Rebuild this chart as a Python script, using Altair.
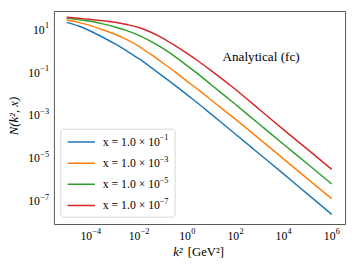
import altair as alt
import pandas as pd
import numpy as np

# ---- data (log10 of k^2 and log10 of N) ----
log_k2 = [-5, -4.5, -4, -3.5, -3, -2.5, -2, -1.5, -1, -0.5, 0, 0.5, 1, 2, 3, 4, 5, 6]
series_labels = ["x = 1.0 × 10^−1", "x = 1.0 × 10^−3", "x = 1.0 × 10^−5", "x = 1.0 × 10^−7"]
series_exps = ["−1", "−3", "−5", "−7"]
logN_x1 = [1.29, 1.12, 0.88, 0.60, 0.30, -0.04, -0.40, -0.80, -1.22, -1.64, -2.08, -2.52, -2.98, -3.90, -4.83, -5.76, -6.70, -7.64]
logN_x3 = [1.40, 1.29, 1.14, 0.95, 0.74, 0.49, 0.18, -0.20, -0.60, -1.01, -1.45, -1.87, -2.32, -3.21, -4.13, -5.06, -5.99, -6.91]
logN_x5 = [1.49, 1.42, 1.34, 1.22, 1.08, 0.91, 0.69, 0.41, 0.08, -0.30, -0.72, -1.15, -1.61, -2.52, -3.45, -4.38, -5.30, -6.23]
logN_x7 = [1.53, 1.48, 1.43, 1.37, 1.30, 1.19, 1.05, 0.83, 0.55, 0.21, -0.15, -0.54, -0.95, -1.82, -2.76, -3.70, -4.62, -5.55]
colors = ["#1f77b4", "#ff7f0e", "#2ca02c", "#d62728"]
x_tick_exp = [-4, -2, 0, 2, 4, 6]
y_tick_exp = [-7, -5, -3, -1, 1]

rows = []
for lab, vals in zip(series_labels, [logN_x1, logN_x3, logN_x5, logN_x7]):
    for lk, lv in zip(log_k2, vals):
        rows.append({"k2": 10.0 ** lk, "N": 10.0 ** lv, "series": lab})
df = pd.DataFrame(rows)

xdf = pd.DataFrame({"k2": [10.0 ** e for e in x_tick_exp], "e": x_tick_exp,
                    "base": ["10"] * len(x_tick_exp),
                    "exp": [str(e).replace("-", "−") for e in x_tick_exp]})
ydf = pd.DataFrame({"N": [10.0 ** e for e in y_tick_exp], "e": y_tick_exp,
                    "base": ["10"] * len(y_tick_exp),
                    "exp": [str(e).replace("-", "−") for e in y_tick_exp]})

FONT = "Liberation Serif"
xscale = alt.Scale(type="log", domain=[10 ** -5.525, 10 ** 6.555], nice=False)
yscale = alt.Scale(type="log", domain=[10 ** -8.09, 10 ** 1.82], nice=False)

lines = alt.Chart(df).mark_line(strokeWidth=1.5, interpolate="monotone", clip=True).encode(
    x=alt.X("k2:Q", scale=xscale,
            axis=alt.Axis(values=[10.0 ** e for e in x_tick_exp], labels=False, title=None)),
    y=alt.Y("N:Q", scale=yscale,
            axis=alt.Axis(values=[10.0 ** e for e in y_tick_exp], labels=False, title=None)),
    color=alt.Color("series:N",
                    scale=alt.Scale(domain=series_labels, range=colors),
                    legend=alt.Legend(title=None, orient="none", legendX=7, legendY=121,
                                      symbolType="stroke", symbolSize=784, symbolStrokeWidth=1.5,
                                      clipHeight=14, rowPadding=7.7, padding=6, labelOffset=7,
                                      labelExpr="split(datum.label, '^')[0]",
                                      labelFont=FONT, labelFontSize=12, labelColor="black")),
)

# legend frame (drawn as a mark so the raised exponents can sit on top of it)
legend_box = alt.Chart(pd.DataFrame({"a": [0]})).mark_rect(
    fill="white", stroke="#cccccc", strokeWidth=0.8, cornerRadius=3
).encode(x=alt.value(7), x2=alt.value(124), y=alt.value(121), y2=alt.value(211))

# legend exponents (raised), one per legend row
leg_rows = []
for i, ex in enumerate(series_exps):
    leg_rows.append(alt.Chart(pd.DataFrame({"t": [ex]})).mark_text(
        font=FONT, fontSize=8.5, align="left", baseline="alphabetic", color="black"
    ).encode(x=alt.value(108.2), y=alt.value(132.5 + i * 21.7), text="t:N"))

# x tick labels: "10" plus a raised exponent
xb = alt.Chart(xdf)
x_base_neg = xb.transform_filter("datum.e < 0").mark_text(
    font=FONT, fontSize=12, align="right", baseline="alphabetic", dx=1.5, color="black"
).encode(x=alt.X("k2:Q", scale=xscale, axis=None), y=alt.value(234), text="base:N")
x_base_pos = xb.transform_filter("datum.e >= 0").mark_text(
    font=FONT, fontSize=12, align="right", baseline="alphabetic", dx=3.9, color="black"
).encode(x=alt.X("k2:Q", scale=xscale, axis=None), y=alt.value(234), text="base:N")
x_exp_neg = xb.transform_filter("datum.e < 0").mark_text(
    font=FONT, fontSize=8.5, align="left", baseline="alphabetic", dx=1.8, color="black"
).encode(x=alt.X("k2:Q", scale=xscale, axis=None), y=alt.value(228.5), text="exp:N")
x_exp_pos = xb.transform_filter("datum.e >= 0").mark_text(
    font=FONT, fontSize=8.5, align="left", baseline="alphabetic", dx=4.2, color="black"
).encode(x=alt.X("k2:Q", scale=xscale, axis=None), y=alt.value(228.5), text="exp:N")

# y tick labels
yb = alt.Chart(ydf)
y_base_neg = yb.transform_filter("datum.e < 0").mark_text(
    font=FONT, fontSize=12, align="right", baseline="alphabetic", dy=5, color="black"
).encode(y=alt.Y("N:Q", scale=yscale, axis=None), x=alt.value(-14.3), text="base:N")
y_base_pos = yb.transform_filter("datum.e >= 0").mark_text(
    font=FONT, fontSize=12, align="right", baseline="alphabetic", dy=5, color="black"
).encode(y=alt.Y("N:Q", scale=yscale, axis=None), x=alt.value(-9.5), text="base:N")
y_exp = yb.mark_text(
    font=FONT, fontSize=8.5, align="right", baseline="alphabetic", dy=-0.5, color="black"
).encode(y=alt.Y("N:Q", scale=yscale, axis=None), x=alt.value(-5), text="exp:N")

ytitle = alt.Chart(pd.DataFrame({"t": ["N(k², x)"]})).mark_text(
    font=FONT, fontSize=13, fontStyle="italic", angle=270, align="center", baseline="middle",
    color="black"
).encode(x=alt.value(-41), y=alt.value(107.5), text="t:N")

note = alt.Chart(pd.DataFrame({"t": ["Analytical (fc)"]})).mark_text(
    font=FONT, fontSize=13.5, align="center", baseline="alphabetic", color="black"
).encode(x=alt.value(212), y=alt.value(51), text="t:N")

xt1 = alt.Chart(pd.DataFrame({"t": ["k²"]})).mark_text(
    font=FONT, fontSize=13, fontStyle="italic", align="left", baseline="alphabetic", color="black"
).encode(x=alt.value(122), y=alt.value(251), text="t:N")

xt2 = alt.Chart(pd.DataFrame({"t": ["[GeV²]"]})).mark_text(
    font=FONT, fontSize=13, align="left", baseline="alphabetic", color="black"
).encode(x=alt.value(137), y=alt.value(251), text="t:N")

chart = alt.layer(lines, legend_box, *leg_rows, x_base_neg, x_base_pos, x_exp_neg, x_exp_pos,
                  y_base_neg, y_base_pos, y_exp, ytitle, note, xt1, xt2).properties(
    width=298, height=218,
    autosize=alt.AutoSizeParams(type="none"),
    padding={"left": 47, "top": 0, "right": 4, "bottom": 45},
).configure_view(
    stroke="#555555", strokeWidth=1
).configure_axis(
    domain=False, ticks=True, tickSize=3.5, tickWidth=0.8, tickColor="#333333",
    grid=True, gridColor="#dddddd", gridDash=[3, 2], gridWidth=0.8,
)

chart.save("out.html", embed_options={"renderer": "svg", "actions": False})
